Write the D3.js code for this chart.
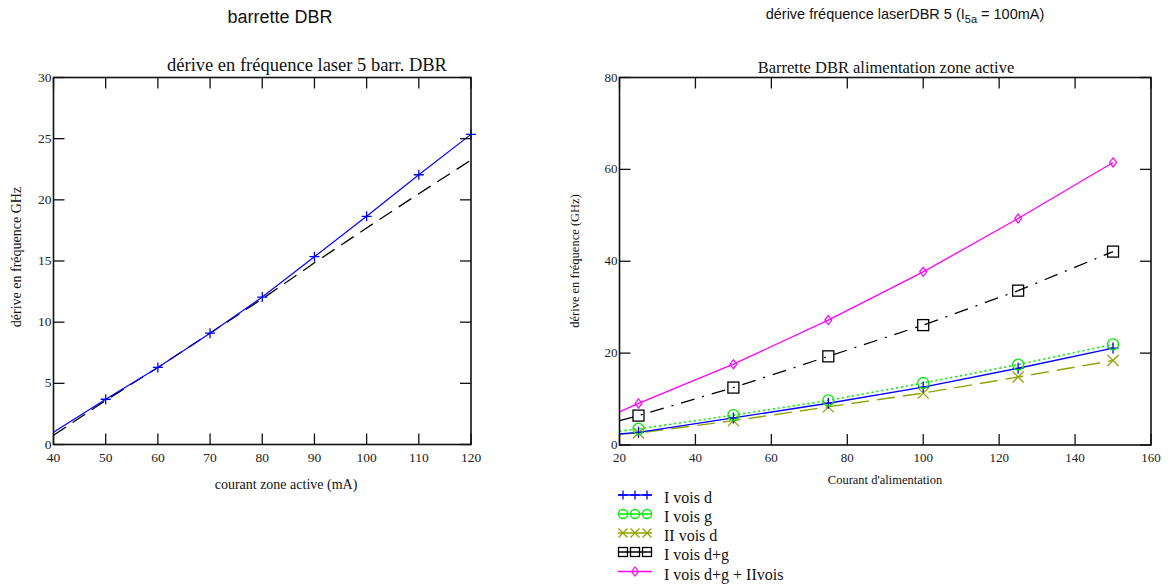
<!DOCTYPE html>
<html><head><meta charset="utf-8">
<script src="https://cdn.jsdelivr.net/npm/d3@7"></script>
<style>body{margin:0;background:#fff}svg{display:block}</style>
</head><body>
<svg id="c" width="1169" height="585"></svg>
<script>
// ---- Left chart data ----
const leftX = [40, 50, 60, 70, 80, 90, 100, 110, 120];
const leftMeasured = [1.0, 3.7, 6.3, 9.1, 12.05, 15.35, 18.65, 22.05, 25.35];
const leftModel = [0.75, 3.6, 6.3, 9.1, 11.9, 14.85, 17.7, 20.5, 23.25];
const leftMarkerX = [50, 60, 70, 80, 90, 100, 110, 120];
const leftXTicks = [40, 50, 60, 70, 80, 90, 100, 110, 120];
const leftYTicks = [0, 5, 10, 15, 20, 25, 30];

// ---- Right chart data ----
const rightX = [20, 25, 50, 75, 100, 125, 150];
const markerFlags = [false, true, true, true, true, true, true];
const seriesNames = ["I vois d", "I vois g", "II vois d", "I vois d+g", "I vois d+g + IIvois"];
const iVoisD = [2.4, 2.75, 5.9, 9.1, 12.6, 16.7, 21.1];
const iVoisG = [3.0, 3.5, 6.5, 9.7, 13.5, 17.5, 21.9];
const iiVoisD = [2.4, 2.6, 5.3, 8.3, 11.3, 14.8, 18.4];
const iVoisDG = [5.3, 6.4, 12.5, 19.3, 26.1, 33.6, 42.1];
const iVoisDGII = [7.2, 9.05, 17.6, 27.2, 37.7, 49.3, 61.5];
const rightXTicks = [20, 40, 60, 80, 100, 120, 140, 160];
const rightYTicks = [0, 20, 40, 60, 80];

const svg = d3.select("#c");
const serif = "'Liberation Serif','Times New Roman',serif";
const sans = "'Liberation Sans',Arial,sans-serif";

function frame(g, x, y, xt, yt, tickLen, fs) {
  const [x0, x1] = x.range(), [y0, y1] = y.range();
  xt.forEach(v => {
    g.append("line").attr("x1", x(v)).attr("x2", x(v)).attr("y1", y0).attr("y2", y0 - tickLen).attr("stroke", "#111").attr("stroke-width", 1.3);
    g.append("line").attr("x1", x(v)).attr("x2", x(v)).attr("y1", y1).attr("y2", y1 + tickLen).attr("stroke", "#111").attr("stroke-width", 1.3);
    g.append("text").attr("x", x(v)).attr("y", y0 + 17).attr("text-anchor", "middle")
      .attr("font-family", serif).attr("font-size", fs).attr("fill", "#222").text(v);
  });
  yt.forEach(v => {
    g.append("line").attr("x1", x0).attr("x2", x0 + tickLen).attr("y1", y(v)).attr("y2", y(v)).attr("stroke", "#111").attr("stroke-width", 1.3);
    g.append("line").attr("x1", x1).attr("x2", x1 - tickLen).attr("y1", y(v)).attr("y2", y(v)).attr("stroke", "#111").attr("stroke-width", 1.3);
    g.append("text").attr("x", x0 - 2).attr("y", y(v) + 4).attr("text-anchor", "end")
      .attr("font-family", serif).attr("font-size", fs).attr("fill", "#222").text(v);
  });
  g.append("rect").attr("x", x0).attr("y", y1).attr("width", x1 - x0).attr("height", y0 - y1)
    .attr("fill", "none").attr("stroke", "#111").attr("stroke-width", 1.6);
}

function marker(g, type, cx, cy, color, sc) {
  const s = 5 * (sc || 1);
  if (type === "plus") {
    g.append("path").attr("d", `M${cx - s},${cy}H${cx + s}M${cx},${cy - s}V${cy + s}`).attr("stroke", color).attr("stroke-width", 1.3).attr("fill", "none");
  } else if (type === "circle") {
    g.append("circle").attr("cx", cx).attr("cy", cy).attr("r", s).attr("stroke", color).attr("stroke-width", 1.3).attr("fill", "none");
  } else if (type === "x") {
    g.append("path").attr("d", `M${cx - s},${cy - s}L${cx + s},${cy + s}M${cx - s},${cy + s}L${cx + s},${cy - s}`).attr("stroke", color).attr("stroke-width", 1.3).attr("fill", "none");
  } else if (type === "square") {
    g.append("rect").attr("x", cx - s).attr("y", cy - s).attr("width", 2 * s).attr("height", 2 * s).attr("stroke", color).attr("stroke-width", 1.3).attr("fill", "none");
  } else if (type === "diamond") {
    g.append("path").attr("d", `M${cx},${cy - 4.5}L${cx + 3.5},${cy}L${cx},${cy + 4.5}L${cx - 3.5},${cy}Z`).attr("stroke", color).attr("stroke-width", 1.2).attr("fill", "none");
  }
}

// ---------- Left chart ----------
{
  const g = svg.append("g");
  const x = d3.scaleLinear().domain([40, 120]).range([53.5, 471]);
  const y = d3.scaleLinear().domain([0, 30]).range([444.5, 77.5]);
  const line = d3.line().x(d => x(d[0])).y(d => y(d[1]));
  g.append("path").datum(leftX.map((v, i) => [v, leftModel[i]])).attr("d", line)
    .attr("fill", "none").attr("stroke", "#000").attr("stroke-width", 1.3).attr("stroke-dasharray", "15,8");
  g.append("path").datum(leftX.map((v, i) => [v, leftMeasured[i]])).attr("d", line)
    .attr("fill", "none").attr("stroke", "#0000ff").attr("stroke-width", 1.2);
  leftMarkerX.forEach(v => {
    const i = leftX.indexOf(v);
    marker(g, "plus", x(v), y(leftMeasured[i]), "#0000ff");
  });
  frame(g, x, y, leftXTicks, leftYTicks, 11, 13.5);
  g.append("text").attr("x", 307).attr("y", 71).attr("text-anchor", "middle").attr("font-family", serif).attr("font-size", 18.5).attr("fill", "#111").text("dérive en fréquence laser 5 barr. DBR");
  g.append("text").attr("transform", "translate(21,257) rotate(-90)").attr("text-anchor", "middle").attr("font-family", serif).attr("font-size", 14).attr("fill", "#111").text("dérive en fréquence GHz");
  g.append("text").attr("x", 286).attr("y", 489).attr("text-anchor", "middle").attr("font-family", serif).attr("font-size", 14).attr("fill", "#111").text("courant zone active (mA)");
  g.append("text").attr("x", 280).attr("y", 23).attr("text-anchor", "middle").attr("font-family", sans).attr("font-size", 18).attr("fill", "#111").text("barrette DBR");
}

// ---------- Right chart ----------
{
  const g = svg.append("g");
  const x = d3.scaleLinear().domain([20, 160]).range([619.5, 1151]);
  const y = d3.scaleLinear().domain([0, 80]).range([445, 77.5]);
  const line = d3.line().x(d => x(d[0])).y(d => y(d[1]));
  const series = [
    {vals: iVoisD, color: "#0000ff", dash: null, m: "plus", w: 1.4},
    {vals: iVoisG, color: "#00ee00", dash: "2,3", m: "circle", w: 1.6},
    {vals: iiVoisD, color: "#91a300", dash: "18,8", m: "x", w: 1.4},
    {vals: iVoisDG, color: "#000000", dash: "14,8,2,8", m: "square", w: 1.3},
    {vals: iVoisDGII, color: "#ff00ff", dash: null, m: "diamond", w: 1.3}
  ];
  const order = [3, 4, 2, 0, 1];
  order.forEach(k => {
    const s = series[k];
    const p = g.append("path").datum(rightX.map((v, i) => [v, s.vals[i]])).attr("d", line)
      .attr("fill", "none").attr("stroke", s.color).attr("stroke-width", s.w);
    if (s.dash) p.attr("stroke-dasharray", s.dash);
  });
  order.forEach(k => {
    const s = series[k];
    rightX.forEach((v, i) => { if (markerFlags[i]) marker(g, s.m, x(v), y(s.vals[i]), s.color, s.m === "square" ? 1.1 : 1.1); });
  });
  frame(g, x, y, rightXTicks, rightYTicks, 11, 13);
  g.append("text").attr("x", 886).attr("y", 73).attr("text-anchor", "middle").attr("font-family", serif).attr("font-size", 16.5).attr("fill", "#111").text("Barrette DBR alimentation zone active");
  g.append("text").attr("transform", "translate(579,261) rotate(-90)").attr("text-anchor", "middle").attr("font-family", serif).attr("font-size", 12.5).attr("fill", "#111").text("dérive en fréquence (GHz)");
  g.append("text").attr("x", 885).attr("y", 484).attr("text-anchor", "middle").attr("font-family", serif).attr("font-size", 12.5).attr("fill", "#111").text("Courant d'alimentation");
  const t = g.append("text").attr("x", 905).attr("y", 19).attr("text-anchor", "middle").attr("font-family", sans).attr("font-size", 14.5).attr("fill", "#111");
  t.append("tspan").text("dérive fréquence laserDBR 5 (I");
  t.append("tspan").attr("dy", 4).attr("font-size", 11).text("5a");
  t.append("tspan").attr("dy", -4).text(" = 100mA)");

  // legend
  const rows = [495, 514, 533, 552, 571.5];
  series.forEach((s, k) => {
    const ly = rows[k];
    g.append("line").attr("x1", 618).attr("x2", 652).attr("y1", ly).attr("y2", ly).attr("stroke", s.color).attr("stroke-width", s.w);
    if (k === 4) {
      marker(g, s.m, 635, ly, s.color);
    } else {
      [623, 635, 647].forEach(mx => marker(g, s.m, mx, ly, s.color, 0.9));
    }
    g.append("text").attr("x", 664).attr("y", ly + 8).attr("font-family", serif).attr("font-size", 16).attr("fill", "#111").text(seriesNames[k]);
  });
}
</script>
</body></html>
